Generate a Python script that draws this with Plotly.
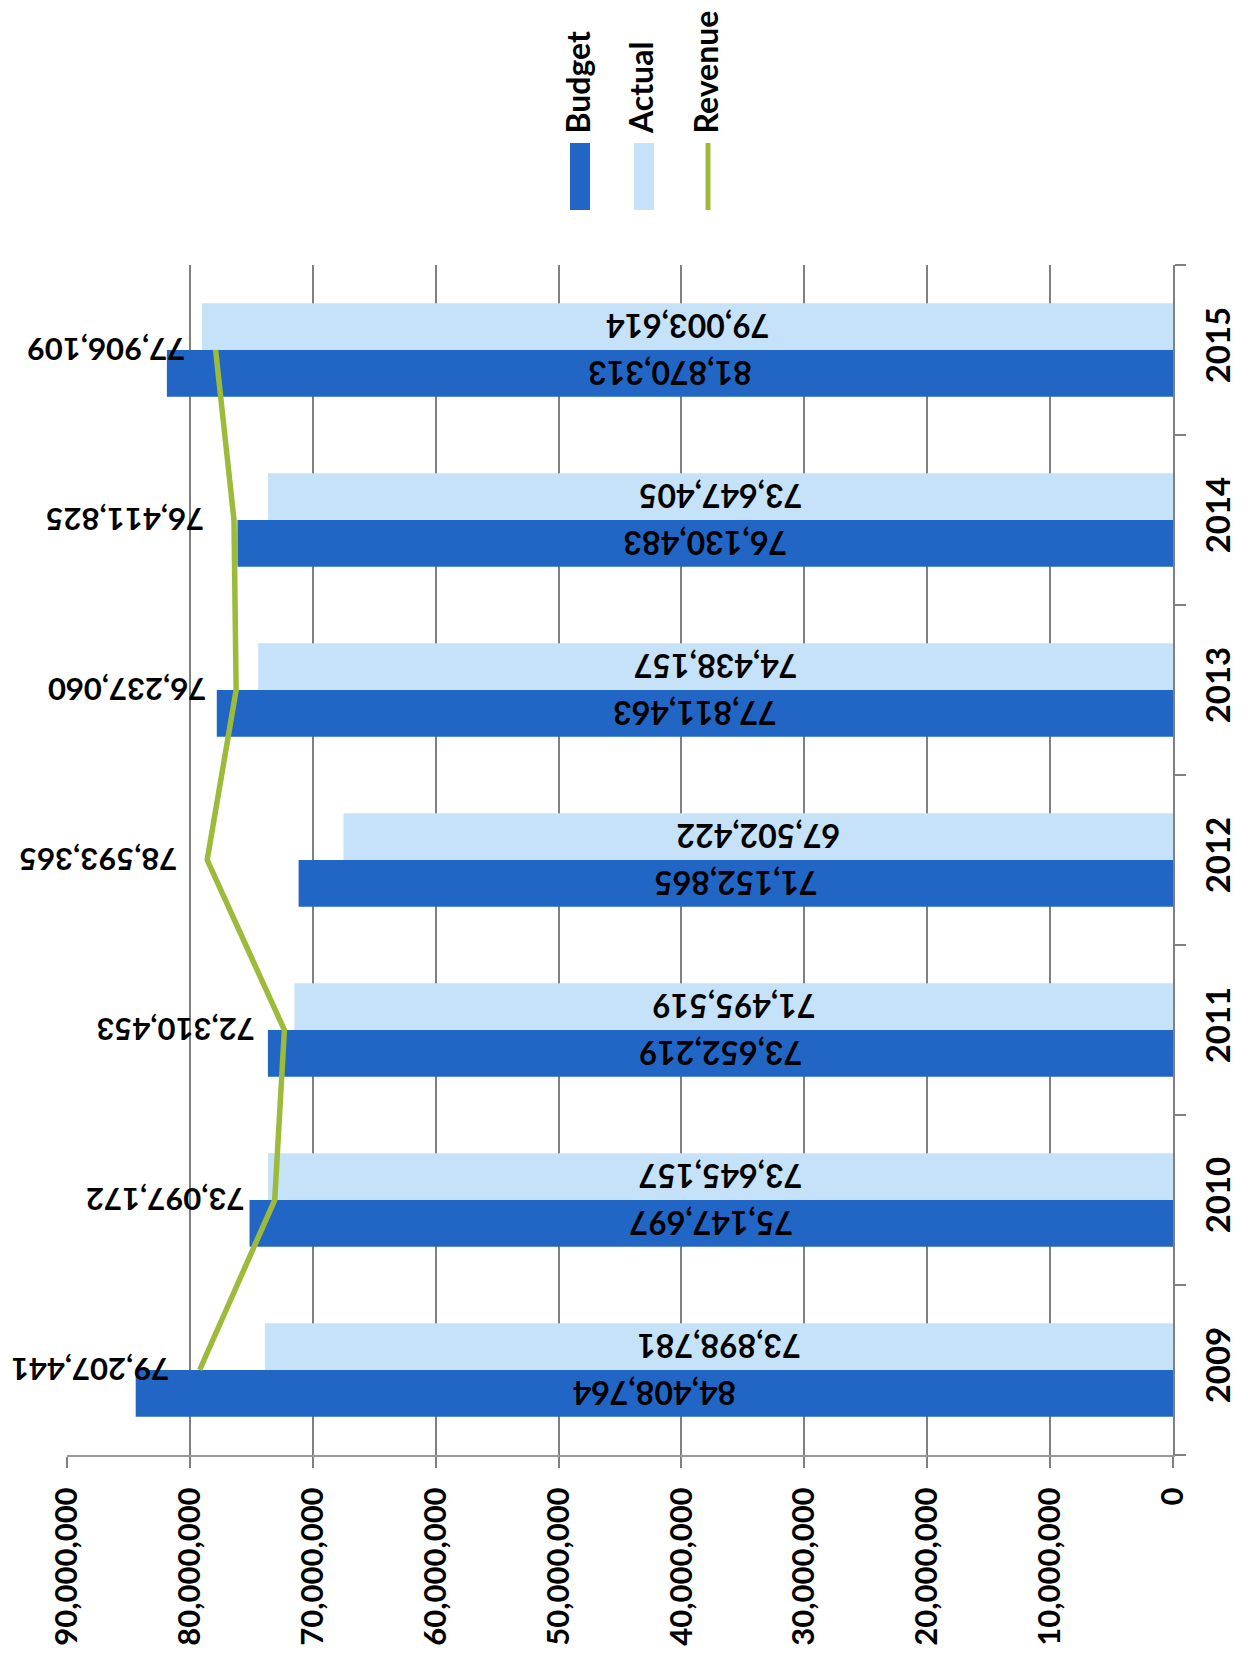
import plotly.graph_objects as go

years = ['2009', '2010', '2011', '2012', '2013', '2014', '2015']
budget = [84408764, 75147697, 73652219, 71152865, 77811463, 76130483, 81870313]
actual = [73898781, 73645157, 71495519, 67502422, 74438157, 73647405, 79003614]
revenue = [79207441, 73097172, 72310453, 78593365, 76237060, 76411825, 77906109]
x_ticks = [0, 10000000, 20000000, 30000000, 40000000, 50000000, 60000000, 70000000, 80000000, 90000000]

W, H = 1248, 1663
L, R, T, B = 59, 83, 257, 216
PW, PH = W - L - R, H - T - B
FONT = 'Lato'
C_BUDGET = '#2266C5'
C_ACTUAL = '#C6E2F8'
C_REV = '#9DBB3A'
GRID = '#808080'


def px(xp):
    return (xp - L) / PW


def py(yp):
    return (H - B - yp) / PH


fig = go.Figure()
fig.add_trace(go.Bar(
    name='Budget', y=years, x=budget, orientation='h',
    marker=dict(color=C_BUDGET, line=dict(width=0)),
    text=[f'{v:,}' for v in budget], textposition='inside',
    insidetextanchor='middle', textangle=180, constraintext='none',
    textfont=dict(family=FONT, size=32, color='black', weight='bold'),
))
fig.add_trace(go.Bar(
    name='Actual', y=years, x=actual, orientation='h',
    marker=dict(color=C_ACTUAL, line=dict(width=0)),
    text=[f'{v:,}' for v in actual], textposition='inside',
    insidetextanchor='middle', textangle=180, constraintext='none',
    textfont=dict(family=FONT, size=32, color='black', weight='bold'),
))
fig.add_trace(go.Scatter(
    name='Revenue', y=years, x=revenue, mode='lines',
    line=dict(color=C_REV, width=5.5),
))

annotations = []
for i, v in enumerate(revenue):
    annotations.append(dict(
        x=v, y=i, xref='x', yref='y', text=f'<b>{v:,}</b>', showarrow=False,
        textangle=180, xanchor='right', yanchor='middle', xshift=-28,
        font=dict(family=FONT, size=31, color='black'),
    ))

# legend (rotated, drawn manually)
legend_items = [
    ('Budget', C_BUDGET, 'box', 572),
    ('Actual', C_ACTUAL, 'box', 636),
    ('Revenue', C_REV, 'line', 700),
]
shapes = []
for name, col, kind, cx in legend_items:
    if kind == 'box':
        shapes.append(dict(type='rect', xref='paper', yref='paper',
                           x0=px(cx - 10), x1=px(cx + 10), y0=py(202), y1=py(135),
                           fillcolor=col, line=dict(width=0)))
    else:
        shapes.append(dict(type='line', xref='paper', yref='paper',
                           x0=px(cx), x1=px(cx), y0=py(202), y1=py(135),
                           line=dict(color=col, width=5)))
    annotations.append(dict(
        x=px(cx - 3), y=py(128), xref='paper', yref='paper', text=f'<b>{name}</b>',
        showarrow=False, textangle=-90, xanchor='center', yanchor='bottom',
        font=dict(family=FONT, size=32, color='black'),
    ))

fig.update_layout(
    width=W, height=H,
    margin=dict(l=L, r=R, t=T, b=B, pad=0),
    paper_bgcolor='white', plot_bgcolor='white',
    barmode='group', bargap=0.45, bargroupgap=0,
    showlegend=False,
    annotations=annotations, shapes=shapes,
    font=dict(family=FONT, color='black'),
)
fig.update_xaxes(
    range=[90000000, 0], autorange=False, tickvals=x_ticks,
    ticktext=[f'<b>{v:,}</b>' for v in x_ticks],
    tickangle=-90, tickfont=dict(family=FONT, size=31, color='black'),
    showgrid=True, gridcolor=GRID, gridwidth=2,
    showline=True, linecolor='#999999', linewidth=2,
    ticks='outside', ticklen=11, tickcolor=GRID, tickwidth=2,
    ticklabelstandoff=7, zeroline=False,
)
fig.update_yaxes(
    type='category', side='right', categoryorder='array', categoryarray=years,
    range=[-0.5, len(years) - 0.5], autorange=False,
    tickangle=-90, tickfont=dict(family=FONT, size=33, color='black', weight='bold'),
    showgrid=False, showline=True, linecolor=GRID, linewidth=2,
    ticks='outside', tickson='boundaries', ticklen=11, tickcolor=GRID, tickwidth=2,
    ticklabelstandoff=15,
)

fig.write_html('out.html')
